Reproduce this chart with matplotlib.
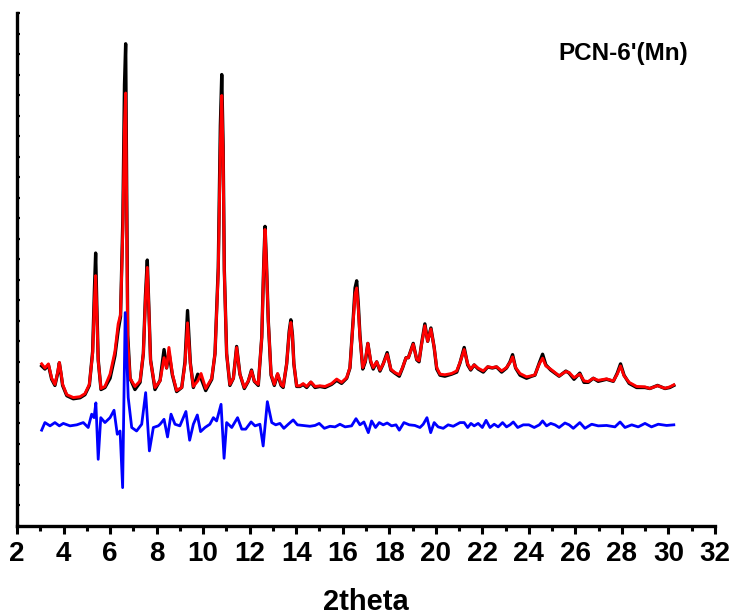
import matplotlib
matplotlib.use("Agg")
import matplotlib.pyplot as plt
from matplotlib import font_manager as fm
from matplotlib.ticker import MultipleLocator, NullFormatter

# 2theta grid shared by observed (black) and calculated (red) patterns
two_theta = [3.06, 3.20, 3.35, 3.49, 3.63, 3.75, 3.82, 3.90, 3.96, 4.14, 4.42, 4.71, 4.92, 5.11,
             5.25, 5.33, 5.38, 5.43, 5.49, 5.61, 5.78, 6.00, 6.21, 6.35, 6.45, 6.55, 6.62, 6.67,
             6.71, 6.76, 6.86, 7.07, 7.29, 7.43, 7.52, 7.60, 7.67, 7.74, 7.93, 8.15, 8.32, 8.43,
             8.53, 8.68, 8.86, 9.08, 9.22, 9.33, 9.45, 9.58, 9.77, 9.91, 10.11, 10.37, 10.51,
             10.65, 10.74, 10.80, 10.86, 10.91, 11.01, 11.15, 11.30, 11.44, 11.58, 11.77, 11.94,
             12.08, 12.20, 12.37, 12.52, 12.60, 12.66, 12.72, 12.80, 12.92, 13.06, 13.20, 13.35,
             13.44, 13.59, 13.70, 13.77, 13.84, 13.90, 14.02, 14.16, 14.30, 14.45, 14.63, 14.81,
             15.02, 15.24, 15.52, 15.74, 15.95, 16.17, 16.31, 16.45, 16.53, 16.60, 16.67, 16.74,
             16.86, 16.97, 17.08, 17.20, 17.31, 17.46, 17.60, 17.74, 17.91, 18.07, 18.24, 18.43,
             18.57, 18.72, 18.82, 19.03, 19.18, 19.28, 19.39, 19.53, 19.65, 19.79, 19.93, 20.04,
             20.18, 20.39, 20.68, 20.90, 21.04, 21.22, 21.37, 21.50, 21.65, 21.82, 22.04, 22.23,
             22.43, 22.61, 22.83, 23.04, 23.19, 23.30, 23.43, 23.62, 23.90, 24.12, 24.26, 24.45,
             24.59, 24.73, 24.94, 25.12, 25.30, 25.59, 25.73, 25.94, 26.19, 26.37, 26.55, 26.77,
             26.98, 27.34, 27.63, 27.80, 27.94, 28.09, 28.31, 28.63, 28.99, 29.20, 29.53, 29.85,
             30.06, 30.23]

calc = [7.9, 7.7, 7.9, 7.2, 6.9, 7.5, 7.97, 7.4, 6.9, 6.4, 6.26, 6.3, 6.45, 6.9,
        8.4, 11.0, 12.2, 10.4, 8.05, 6.7, 6.8, 7.4, 8.5, 9.85, 10.3, 14.5, 19.5, 21.1,
        16.0, 9.0, 7.2, 6.8, 7.07, 8.4, 11.0, 12.6, 10.5, 8.05, 6.75, 7.07, 8.2, 7.7,
        8.7, 7.4, 6.6, 6.75, 7.9, 9.9, 7.9, 6.8, 7.07, 7.43, 6.7, 7.2, 8.4,
        12.4, 18.5, 20.98, 18.0, 12.4, 8.4, 6.9, 7.2, 8.7, 7.4, 6.75, 7.07,
        7.56, 7.07, 6.9, 9.2, 12.5, 14.45, 12.8, 10.0, 7.4, 6.9, 7.43, 6.9,
        6.8, 7.9, 9.4, 9.92, 9.2, 7.9, 6.83, 6.83, 6.94, 6.8, 7.02, 6.8,
        6.83, 6.8, 6.94, 7.16, 7.0, 7.23, 7.72, 10.0, 11.3, 11.6, 10.6, 9.2,
        7.72, 8.05, 8.9, 8.05, 7.72, 8.0, 7.6, 7.9, 8.37, 7.64, 7.48, 7.37,
        7.72, 8.2, 8.2, 8.86, 8.13, 8.05, 8.86, 9.76, 9.0, 9.6, 8.7, 7.72,
        7.4, 7.37, 7.43, 7.56, 7.97, 8.6, 7.9, 7.64, 7.85, 7.69, 7.56, 7.76,
        7.72, 7.76, 7.56, 7.72, 7.97, 8.24, 7.72, 7.43, 7.27, 7.32, 7.37, 7.9,
        8.18, 7.8, 7.64, 7.48, 7.32, 7.53, 7.48, 7.23, 7.4, 7.07, 7.04, 7.2,
        7.1, 7.17, 7.07, 7.4, 7.8, 7.32, 7.0, 6.8, 6.78, 6.7, 6.84, 6.71,
        6.78, 6.88]

observed = [7.8, 7.65, 7.85, 7.15, 6.85, 7.45, 7.95, 7.35, 6.85, 6.35, 6.2, 6.25, 6.4, 6.85,
            8.5, 11.6, 13.3, 10.8, 8.1, 6.65, 6.75, 7.2, 8.3, 9.55, 10.2, 15.0, 21.5, 23.5,
            17.0, 9.3, 7.2, 6.65, 7.0, 8.4, 11.2, 12.96, 10.6, 8.1, 6.65, 7.1, 8.6, 7.7,
            8.45, 7.35, 6.55, 6.75, 8.0, 10.5, 7.95, 6.75, 7.4, 7.2, 6.6, 7.15, 8.4,
            12.6, 19.5, 22.0, 18.5, 12.5, 8.4, 6.85, 7.2, 8.75, 7.4, 6.7, 7.05,
            7.6, 7.05, 6.85, 9.2, 12.6, 14.6, 12.9, 10.0, 7.35, 6.85, 7.4, 6.85,
            6.75, 7.9, 9.5, 10.05, 9.3, 7.9, 6.8, 6.8, 6.9, 6.75, 7.0, 6.75,
            6.8, 6.75, 6.9, 7.1, 6.95, 7.2, 7.7, 10.1, 11.6, 11.95, 10.8, 9.3,
            7.65, 8.0, 8.9, 8.0, 7.65, 8.0, 7.55, 7.9, 8.45, 7.6, 7.45, 7.3,
            7.7, 8.2, 8.2, 8.9, 8.1, 8.0, 8.9, 9.85, 9.0, 9.65, 8.7, 7.65,
            7.35, 7.3, 7.4, 7.5, 7.95, 8.7, 7.85, 7.6, 7.85, 7.65, 7.5, 7.75,
            7.7, 7.75, 7.5, 7.7, 8.0, 8.35, 7.7, 7.35, 7.2, 7.3, 7.35, 7.95,
            8.37, 7.85, 7.6, 7.45, 7.3, 7.55, 7.45, 7.15, 7.45, 7.0, 7.0, 7.2,
            7.05, 7.15, 7.05, 7.45, 7.9, 7.35, 6.95, 6.75, 6.75, 6.7, 6.85, 6.7,
            6.75, 6.85]

# difference curve (blue)
diff_theta = [3.06, 3.20, 3.42, 3.63, 3.82, 3.99, 4.28, 4.57, 4.85, 5.06, 5.21, 5.31, 5.39, 5.49,
              5.60, 5.78, 6.00, 6.17, 6.31, 6.43, 6.54, 6.65, 6.78, 6.93, 7.14, 7.36, 7.53, 7.69,
              7.86, 8.07, 8.15, 8.32, 8.47, 8.62, 8.79, 9.00, 9.26, 9.42, 9.58, 9.75, 9.89, 10.08,
              10.29, 10.44, 10.58, 10.77, 10.90, 11.01, 11.23, 11.48, 11.66, 11.83, 12.06, 12.23,
              12.44, 12.58, 12.76, 12.95, 13.12, 13.30, 13.47, 13.66, 13.87, 14.05, 14.30, 14.59,
              14.81, 14.99, 15.21, 15.45, 15.67, 15.88, 16.10, 16.38, 16.57, 16.74, 16.91, 17.10,
              17.24, 17.41, 17.57, 17.74, 17.91, 18.10, 18.29, 18.43, 18.63, 18.86, 19.10, 19.32,
              19.46, 19.62, 19.78, 19.93, 20.10, 20.32, 20.53, 20.75, 21.04, 21.22, 21.37, 21.51,
              21.65, 21.82, 22.00, 22.16, 22.33, 22.51, 22.68, 22.87, 23.04, 23.19, 23.33, 23.52,
              23.76, 24.00, 24.23, 24.45, 24.59, 24.76, 24.94, 25.12, 25.30, 25.55, 25.73, 25.91,
              26.19, 26.41, 26.70, 26.98, 27.34, 27.70, 27.92, 28.13, 28.42, 28.70, 28.99, 29.27,
              29.56, 29.92, 30.23]

difference = [4.67, 5.04, 4.88, 5.04, 4.88, 5.0, 4.88, 4.93, 5.04, 4.8, 5.45, 5.28, 6.0, 3.25,
              5.28, 5.04, 5.28, 5.64, 4.47, 4.63, 1.87, 10.4, 6.26, 4.8, 4.63, 4.96, 6.5, 3.66,
              4.8, 4.88, 4.96, 5.2, 4.34, 5.45, 4.96, 4.88, 5.58, 4.18, 4.96, 5.41, 4.6, 4.8,
              4.96, 5.28, 5.12, 5.93, 3.3, 5.04, 4.8, 5.28, 4.72, 4.72, 5.07, 4.88,
              4.96, 3.9, 6.06, 5.04, 4.93, 5.0, 4.76, 4.96, 5.17, 4.93, 4.9, 4.86,
              4.9, 5.0, 4.76, 4.86, 4.83, 4.96, 4.83, 4.88, 5.23, 4.93, 5.07, 4.55,
              5.12, 4.8, 5.04, 4.93, 5.02, 4.88, 4.93, 4.67, 5.04, 4.93, 4.9, 4.8,
              4.96, 5.28, 4.55, 5.04, 4.83, 4.76, 4.93, 4.86, 5.04, 5.04, 4.8, 5.0,
              4.88, 5.0, 4.8, 5.15, 4.8, 4.96, 4.83, 5.04, 4.83, 4.93, 5.07, 4.8,
              4.93, 4.93, 4.8, 4.93, 5.12, 4.88, 5.0, 4.93, 4.8, 5.02, 4.93, 4.76,
              5.04, 4.76, 4.96, 4.88, 4.9, 4.83, 5.07, 4.8, 4.93, 4.83, 5.0, 4.83,
              4.96, 4.9, 4.93]

x_ticks = list(range(2, 33, 2))
title_text = "PCN-6'(Mn)"
x_label = "2theta"

installed = {f.name for f in fm.fontManager.ttflist}
if 'Liberation Sans Narrow' in installed:
    tick_family, tick_size, tick_stretch = ['Liberation Sans Narrow', 'DejaVu Sans'], 23, 'normal'
elif 'DejaVu Sans Condensed' in installed:
    tick_family, tick_size, tick_stretch = ['DejaVu Sans Condensed', 'DejaVu Sans'], 20, 'condensed'
else:
    tick_family, tick_size, tick_stretch = ['Liberation Sans', 'DejaVu Sans'], 20, 'normal'

bold_sans = ['Liberation Sans', 'DejaVu Sans']

fig = plt.figure(figsize=(7.38, 6.16), dpi=100)
ax = fig.add_axes([17 / 738, (616 - 526) / 616, (715 - 17) / 738, (526 - 13) / 616])

ax.plot(two_theta, observed, color='black', lw=2.4, zorder=2, solid_joinstyle='round')
ax.plot(two_theta, calc, color='red', lw=2.1, zorder=3, solid_joinstyle='round')
ax.plot(diff_theta, difference, color='blue', lw=2.0, zorder=4, solid_joinstyle='round')

ax.set_xlim(2, 32)
ax.set_ylim(0, 25)
ax.set_xticks(x_ticks)
ax.xaxis.set_minor_locator(MultipleLocator(1))
ax.yaxis.set_major_locator(MultipleLocator(1))
ax.yaxis.set_major_formatter(NullFormatter())

for s in ['top', 'right']:
    ax.spines[s].set_visible(False)
for s in ['left', 'bottom']:
    ax.spines[s].set_linewidth(2.4)

ax.tick_params(axis='x', which='major', direction='out', length=6, width=2.2, pad=5)
ax.tick_params(axis='x', which='minor', direction='out', length=3.5, width=2.2)
ax.tick_params(axis='y', which='major', direction='in', length=2.5, width=1.6)

for lbl in ax.get_xticklabels():
    lbl.set_fontfamily(tick_family)
    lbl.set_fontweight('bold')
    lbl.set_fontsize(tick_size)
    lbl.set_fontstretch(tick_stretch)

ax.set_xlabel(x_label, fontsize=tick_size + 1, fontweight='bold', family=tick_family,
              fontstretch=tick_stretch, labelpad=15)
ax.text(0.868, 0.922, title_text, transform=ax.transAxes, ha='center', va='center',
        fontsize=17.5, fontweight='bold', family=bold_sans)

fig.savefig('out.png', dpi=100)
